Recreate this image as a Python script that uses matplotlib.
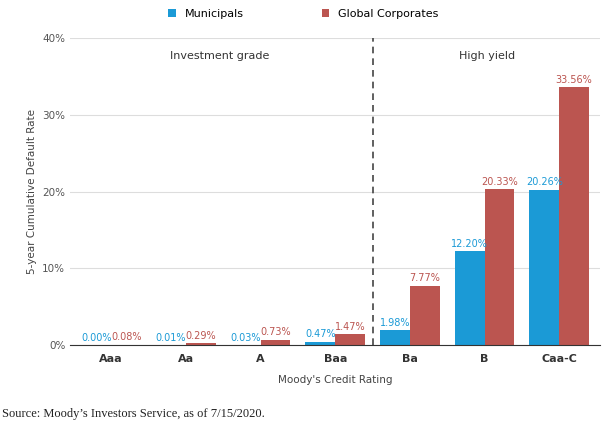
import matplotlib.pyplot as plt
import numpy as np

ratings = ["Aaa", "Aa", "A", "Baa", "Ba", "B", "Caa-C"]
municipals = [0.00, 0.01, 0.03, 0.47, 1.98, 12.20, 20.26]
corporates = [0.08, 0.29, 0.73, 1.47, 7.77, 20.33, 33.56]
yticks = [0, 10, 20, 30, 40]

blue = "#1b9ad6"
red = "#bb5550"

fig = plt.figure(figsize=(6.10, 4.32), dpi=100)
ax = fig.add_axes([0.115, 0.201, 0.869, 0.711])

x = np.arange(len(ratings))
w = 0.40
ax.bar(x - w / 2, municipals, w, color=blue, label="Municipals")
ax.bar(x + w / 2, corporates, w, color=red, label="Global Corporates")

for xi, m, c in zip(x, municipals, corporates):
    ax.text(xi - w / 2, m + 0.3, f"{m:.2f}%", color=blue, ha="center", va="bottom", fontsize=7)
    ax.text(xi + w / 2, c + 0.3, f"{c:.2f}%", color=red, ha="center", va="bottom", fontsize=7)

ax.set_xlim(-0.55, 6.55)
ax.set_ylim(0, 40)
ax.set_yticks(yticks, [f"{t}%" for t in yticks], fontsize=7.5, color="#555555")
ax.set_xticks(x, ratings, fontsize=8, fontweight="bold", color="#333333")
ax.tick_params(axis="y", length=0)
ax.tick_params(axis="x", length=0, pad=6)
ax.grid(axis="y", color="#dddddd", linewidth=0.8)
ax.set_axisbelow(True)
for s in ["top", "right", "left"]:
    ax.spines[s].set_visible(False)
ax.spines["bottom"].set_color("#333333")

ax.axvline(3.5, color="#444444", linestyle=(0, (4, 3)), linewidth=1.2)
ax.text(1.45, 37.7, "Investment grade", ha="center", va="center", fontsize=8, color="#333333")
ax.text(5.03, 37.7, "High yield", ha="center", va="center", fontsize=8, color="#333333")

ax.set_ylabel("5-year Cumulative Default Rate", fontsize=7.5, color="#444444")
ax.set_xlabel("Moody's Credit Rating", fontsize=7.5, color="#444444", labelpad=8)

ax.legend(loc="lower center", bbox_to_anchor=(0.44, 1.03), ncol=2, frameon=False,
          fontsize=8, handlelength=0.7, handleheight=0.7, columnspacing=7)

fig.text(0.003, 0.035, "Source: Moody\u2019s Investors Service, as of 7/15/2020.",
         family="Liberation Serif", fontsize=9, color="#222222")

fig.savefig("out.png", dpi=100)
